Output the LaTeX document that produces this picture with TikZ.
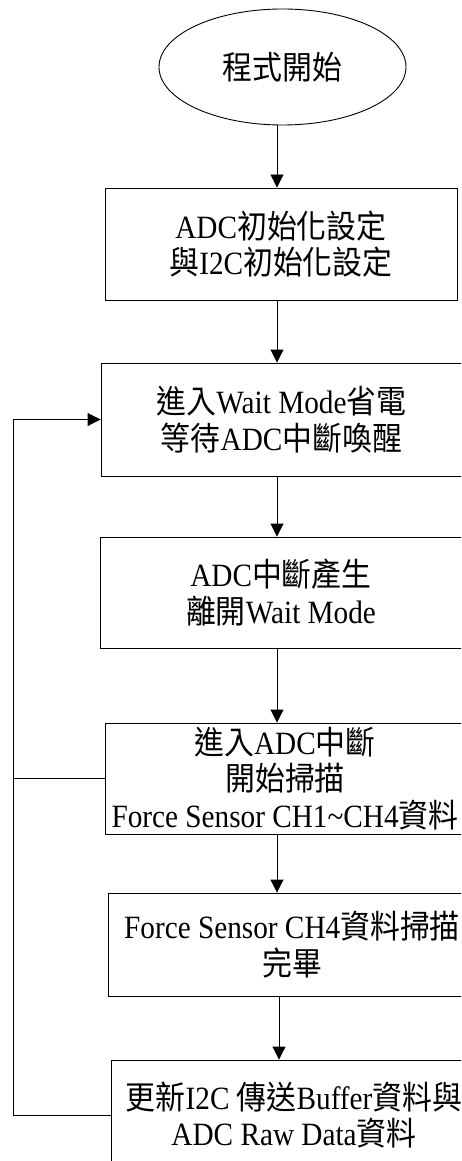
\documentclass[tikz,border=0pt]{standalone}
\usepackage{fontspec}
\setmainfont{Liberation Serif}[FakeStretch=0.9]
\newfontfamily\cjk{Noto Sans CJK TC}[FakeStretch=0.92]
\usetikzlibrary{shapes.geometric,arrows.meta}
\begin{document}
\begin{tikzpicture}[x=1pt,y=-1pt,
  every node/.style={font=\fontsize{32.5pt}{36.5pt}\selectfont, align=center, inner sep=0pt},
  stepbox/.style={draw=black, line width=0.9pt, rectangle},
  startell/.style={draw=black, line width=0.9pt, ellipse, minimum width=247pt, minimum height=116pt},
  conn/.style={draw=black, line width=0.9pt},
  arr/.style={conn, -{Triangle[width=13pt,length=13pt]}}]
\clip (0,0) rectangle (461,1161);
\node[startell] (s) at (282.5,67) {\cjk 程式開始};
\node[stepbox, minimum width=352pt, minimum height=112pt] (b1) at (281,244)
  {ADC{\cjk 初始化設定}\\{\cjk 與}I2C{\cjk 初始化設定}};
\node[stepbox, minimum width=361pt, minimum height=113pt] (b2) at (281.5,419.5)
  {{\cjk 進入}Wait Mode{\cjk 省電}\\{\cjk 等待}ADC{\cjk 中斷喚醒}};
\node[stepbox, minimum width=362pt, minimum height=111pt] (b3) at (281,592.5)
  {ADC{\cjk 中斷產生}\\{\cjk 離開}Wait Mode};
\node[stepbox, minimum width=360pt, minimum height=111pt] (b4) at (285,778.5)
  {{\cjk 進入}ADC{\cjk 中斷}\\{\cjk 開始掃描}\\Force Sensor CH1\textasciitilde CH4{\cjk 資料}};
\node[stepbox, minimum width=368pt, minimum height=103pt] (b5) at (292,944.5)
  {Force Sensor CH4{\cjk 資料掃描}\\{\cjk 完畢}};
\node[stepbox, minimum width=366pt, minimum height=110pt] (b6) at (294,1115)
  {{\cjk 更新}I2C {\cjk 傳送}Buffer{\cjk 資料與}\\ADC Raw Data{\cjk 資料}};
\coordinate (ax) at (277,0);
\coordinate (ax2) at (279,0);
\coordinate (lx) at (13,0);
\draw[arr] (s.south -| ax) -- (b1.north -| ax);
\draw[arr] (b1.south -| ax) -- (b2.north -| ax);
\draw[arr] (b2.south -| ax) -- (b3.north -| ax);
\draw[arr] (b3.south -| ax) -- (b4.north -| ax);
\draw[arr] (b4.south -| ax) -- (b5.north -| ax);
\draw[arr] (b5.south -| ax2) -- (b6.north -| ax2);
\draw[arr] (b6.west) -- (b6.west -| lx) -- (b2.west -| lx) -- (b2.west);
\draw[conn] (b4.west) -- (b4.west -| lx);
\end{tikzpicture}
\end{document}
